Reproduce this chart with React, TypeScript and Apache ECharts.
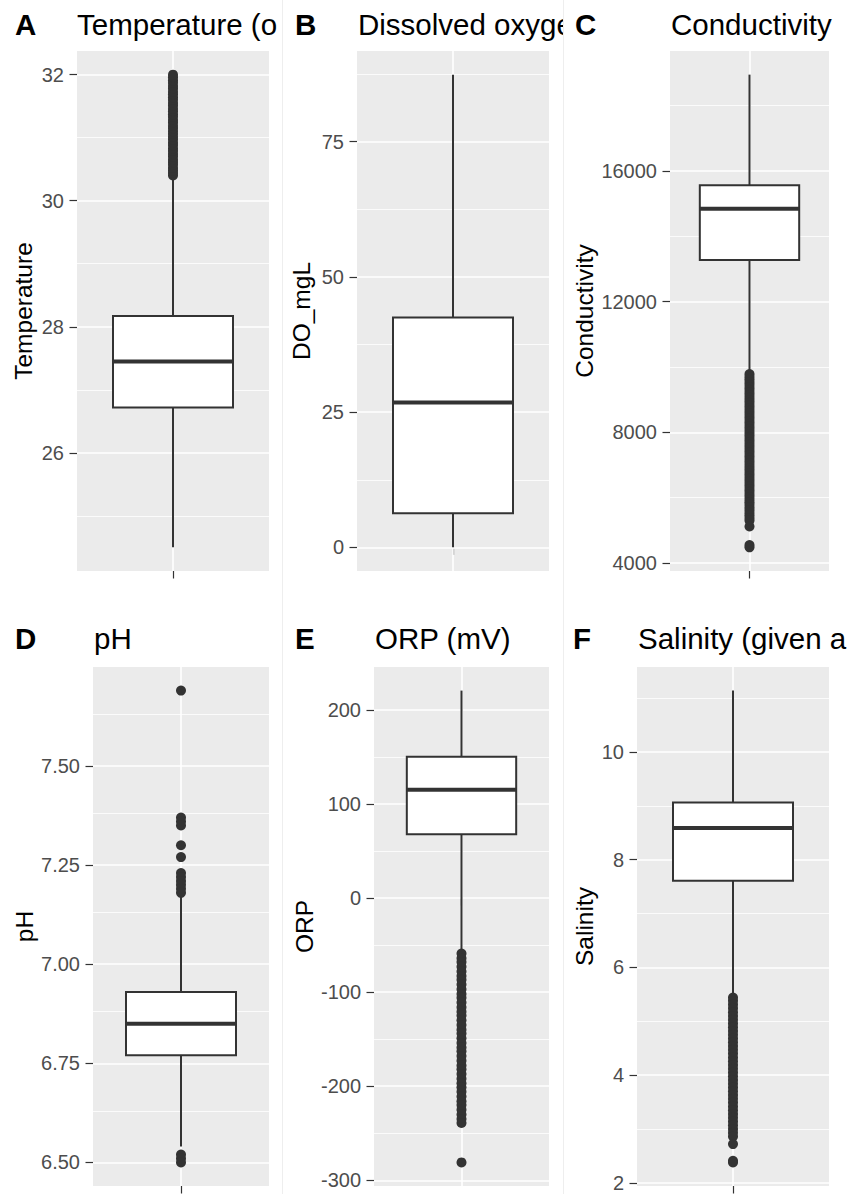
import React, { useEffect, useRef } from 'react';
import * as echarts from 'echarts';

const FONT = '"Liberation Sans", Arial, Helvetica, sans-serif';

const panelTags = ['A', 'B', 'C', 'D', 'E', 'F'];
// titles as visible in the figure (they are clipped by the neighbouring panel / page edge)
const panelTitles = ['Temperature (o', 'Dissolved oxyge', 'Conductivity', 'pH', 'ORP (mV)', 'Salinity (given a'];
const axisTitles = ['Temperature', 'DO_mgL', 'Conductivity', 'pH', 'ORP', 'Salinity'];

// box statistics: [lower whisker, Q1, median, Q3, upper whisker]
const temperatureBox = [24.5, 26.72, 27.45, 28.17, 30.36];
const oxygenBox = [0, 6.3, 26.8, 42.5, 87.4];
const conductivityBox = [9850, 13270, 14840, 15560, 18940];
const phBox = [6.54, 6.77, 6.85, 6.93, 7.17];
const orpBox = [-55, 67.8, 115, 150, 220.4];
const salinityBox = [5.47, 7.61, 8.59, 9.06, 11.14];

// outliers
const temperatureOutliers = [
  30.4, 30.44, 30.48, 30.52, 30.57, 30.61, 30.65, 30.7, 30.74, 30.79, 30.83, 30.88, 30.92,
  30.97, 31.01, 31.06, 31.1, 31.15, 31.19, 31.24, 31.28, 31.33, 31.37, 31.42, 31.46, 31.51,
  31.55, 31.6, 31.64, 31.69, 31.73, 31.78, 31.82, 31.87, 31.91, 31.96, 32.0,
];
const oxygenOutliers: number[] = [];
const conductivityOutliers = [
  9780, 9700, 9620, 9540, 9460, 9380, 9300, 9220, 9140, 9060, 8980, 8900, 8820, 8740, 8660,
  8580, 8500, 8420, 8340, 8260, 8180, 8100, 8020, 7940, 7860, 7780, 7700, 7620, 7540, 7460,
  7380, 7300, 7220, 7140, 7060, 6980, 6900, 6820, 6740, 6660, 6580, 6500, 6420, 6340, 6260,
  6180, 6100, 6020, 5940, 5860, 5780, 5700, 5620, 5540, 5460, 5380, 5300, 5120, 4550, 4480,
];
const phOutliers = [7.69, 7.37, 7.36, 7.35, 7.3, 7.27, 7.23, 7.22, 7.21, 7.2, 7.19, 7.18, 6.52, 6.51, 6.5];
const orpOutliers = [
  -59, -64, -68, -73, -78, -83, -87, -92, -97, -102, -106, -111, -116, -121, -125, -130, -135,
  -140, -144, -149, -154, -159, -163, -168, -173, -178, -182, -187, -192, -197, -201, -206,
  -211, -216, -220, -225, -230, -235, -239, -281,
];
const salinityOutliers = [
  5.44, 5.38, 5.31, 5.24, 5.17, 5.1, 5.03, 4.96, 4.89, 4.82, 4.75, 4.68, 4.61, 4.54, 4.47, 4.4,
  4.33, 4.26, 4.19, 4.12, 4.05, 3.98, 3.91, 3.84, 3.77, 3.7, 3.63, 3.56, 3.49, 3.42, 3.35, 3.28,
  3.21, 3.14, 3.07, 3.0, 2.93, 2.86, 2.72, 2.41, 2.38,
];

// tick labels (major) and minor grid values
const temperatureTicks = [26, 28, 30, 32];
const temperatureMinor = [25, 27, 29, 31];
const oxygenTicks = [0, 25, 50, 75];
const oxygenMinor = [12.5, 37.5, 62.5, 87.5];
const conductivityTicks = [4000, 8000, 12000, 16000];
const conductivityMinor = [6000, 10000, 14000, 18000];
const phTicks = [6.5, 6.75, 7.0, 7.25, 7.5];
const phMinor = [6.625, 6.875, 7.125, 7.375, 7.625];
const orpTicks = [-300, -200, -100, 0, 100, 200];
const orpMinor = [-250, -150, -50, 50, 150];
const salinityTicks = [2, 4, 6, 8, 10];
const salinityMinor = [3, 5, 7, 9, 11];
const tickDecimals = [0, 0, 0, 2, 0, 0];

const boxes = [temperatureBox, oxygenBox, conductivityBox, phBox, orpBox, salinityBox];
const outliers = [temperatureOutliers, oxygenOutliers, conductivityOutliers, phOutliers, orpOutliers, salinityOutliers];
const majors = [temperatureTicks, oxygenTicks, conductivityTicks, phTicks, orpTicks, salinityTicks];
const minors = [temperatureMinor, oxygenMinor, conductivityMinor, phMinor, orpMinor, salinityMinor];

// layout (pixels)
const layouts = [
  { left: 77, right: 269, top: 51, bottom: 571, tagX: 15, titleX: 77, nameGap: 41 },
  { left: 357, right: 549, top: 51, bottom: 571, tagX: 295, titleX: 358, nameGap: 43 },
  { left: 670, right: 829, top: 51, bottom: 571, tagX: 575, titleX: 671, nameGap: 73 },
  { left: 93, right: 269, top: 667, bottom: 1186, tagX: 15, titleX: 94, nameGap: 56 },
  { left: 374, right: 549, top: 667, bottom: 1186, tagX: 295, titleX: 375, nameGap: 57 },
  { left: 637, right: 829, top: 667, bottom: 1186, tagX: 573, titleX: 638, nameGap: 40 },
];

const W = 847;
const H = 1194;
const DARK = '#333333';

export default function App() {
  const ref = useRef<HTMLDivElement>(null);

  useEffect(() => {
    if (!ref.current) return;
    const chart = echarts.init(ref.current, null, { renderer: 'svg' });

    const grid: any[] = [];
    const xAxis: any[] = [];
    const yAxis: any[] = [];
    const series: any[] = [];

    boxes.forEach((box, i) => {
      const L = layouts[i];
      const all = [...box, ...outliers[i]];
      const lo = Math.min(...all);
      const hi = Math.max(...all);
      const pad = (hi - lo) * 0.05;
      const dec = tickDecimals[i];

      grid.push({
        left: L.left,
        top: L.top,
        width: L.right - L.left,
        height: L.bottom - L.top,
        show: true,
        backgroundColor: '#EBEBEB',
        borderWidth: 0,
      });
      xAxis.push({
        type: 'category',
        gridIndex: i,
        data: [''],
        boundaryGap: true,
        axisLine: { show: false },
        axisTick: { show: true, alignWithLabel: true, length: 7.5, lineStyle: { color: DARK, width: 1.2 } },
        axisLabel: { show: false },
        splitLine: { show: false },
      });
      yAxis.push({
        type: 'value',
        gridIndex: i,
        min: lo - pad,
        max: hi + pad,
        name: axisTitles[i],
        nameLocation: 'middle',
        nameRotate: 90,
        nameGap: L.nameGap,
        nameTextStyle: { fontSize: 24.5, color: '#000', fontFamily: FONT },
        axisLine: { show: false },
        axisTick: { show: true, customValues: majors[i], length: 7.5, lineStyle: { color: DARK, width: 1.2 } },
        axisLabel: {
          show: true,
          customValues: majors[i],
          margin: 13,
          fontSize: 20,
          color: '#4D4D4D',
          fontFamily: FONT,
          formatter: (v: number) => Number(v).toFixed(dec),
        },
        splitLine: { show: false },
        minorSplitLine: { show: false },
      });

      // grid lines (white), drawn through the axes' scales
      series.push({
        type: 'scatter',
        xAxisIndex: i,
        yAxisIndex: i,
        data: [],
        silent: true,
        z: 1,
        markLine: {
          silent: true,
          symbol: ['none', 'none'],
          label: { show: false },
          emphasis: { disabled: true },
          animation: false,
          lineStyle: { color: '#FFFFFF', type: 'solid' },
          data: [
            ...minors[i].map((v) => ({ yAxis: v, lineStyle: { color: '#FFFFFF', width: 0.8, type: 'solid' } })),
            ...majors[i].map((v) => ({ yAxis: v, lineStyle: { color: '#FFFFFF', width: 1.6, type: 'solid' } })),
            { xAxis: 0, lineStyle: { color: '#FFFFFF', width: 1.6, type: 'solid' } },
          ],
        },
      });

      // box + whiskers
      series.push({
        type: 'custom',
        xAxisIndex: i,
        yAxisIndex: i,
        z: 6,
        silent: true,
        data: [[0, ...box]],
        encode: { x: 0, y: [1, 2, 3, 4, 5] },
        renderItem: (params: any, api: any) => {
          const x = api.value(0);
          const pMin = api.coord([x, api.value(1)]);
          const pQ1 = api.coord([x, api.value(2)]);
          const pMed = api.coord([x, api.value(3)]);
          const pQ3 = api.coord([x, api.value(4)]);
          const pMax = api.coord([x, api.value(5)]);
          const bw = api.size([1, 0])[0] * 0.625;
          const cx = pMed[0];
          return {
            type: 'group',
            children: [
              { type: 'line', shape: { x1: cx, y1: pMin[1], x2: cx, y2: pQ1[1] }, style: { stroke: DARK, lineWidth: 2 } },
              { type: 'line', shape: { x1: cx, y1: pQ3[1], x2: cx, y2: pMax[1] }, style: { stroke: DARK, lineWidth: 2 } },
              {
                type: 'rect',
                shape: { x: cx - bw / 2, y: pQ3[1], width: bw, height: pQ1[1] - pQ3[1] },
                style: { fill: '#FFFFFF', stroke: DARK, lineWidth: 2 },
              },
              { type: 'line', shape: { x1: cx - bw / 2, y1: pMed[1], x2: cx + bw / 2, y2: pMed[1] }, style: { stroke: DARK, lineWidth: 4 } },
            ],
          };
        },
      });

      // outliers
      series.push({
        type: 'scatter',
        xAxisIndex: i,
        yAxisIndex: i,
        z: 7,
        silent: true,
        symbol: 'circle',
        symbolSize: 10,
        itemStyle: { color: DARK, opacity: 1 },
        data: outliers[i].map((v) => [0, v]),
      });
    });

    const graphic: any[] = [];
    const sepX = [0, 282, 563];
    [0, 1].forEach((row) => {
      const titleY = row === 0 ? 24 : 638;
      const bandTop = row === 0 ? 0 : 592;
      const bandH = row === 0 ? 49 : 73;
      [0, 1, 2].forEach((col) => {
        const i = row * 3 + col;
        const L = layouts[i];
        const zb = 10 + col * 2;
        if (col > 0) {
          graphic.push({
            type: 'rect',
            z: zb,
            silent: true,
            shape: { x: sepX[col], y: bandTop, width: W - sepX[col], height: bandH },
            style: { fill: '#FFFFFF' },
          });
        }
        graphic.push({
          type: 'text',
          z: zb + 1,
          x: L.tagX,
          y: titleY,
          silent: true,
          style: { text: panelTags[i], fontSize: 29.5, fontWeight: 'bold', fontFamily: FONT, fill: '#000', align: 'left', verticalAlign: 'middle' },
        });
        graphic.push({
          type: 'text',
          z: zb + 1,
          x: L.titleX,
          y: titleY,
          silent: true,
          style: { text: panelTitles[i], fontSize: 29.5, fontFamily: FONT, fill: '#000', align: 'left', verticalAlign: 'middle' },
        });
      });
    });
    graphic.push({ type: 'line', z: 30, silent: true, shape: { x1: 282.5, y1: 0, x2: 282.5, y2: H }, style: { stroke: '#EEEEEE', lineWidth: 1 } });
    graphic.push({ type: 'line', z: 30, silent: true, shape: { x1: 563.5, y1: 0, x2: 563.5, y2: H }, style: { stroke: '#EEEEEE', lineWidth: 1 } });

    chart.setOption({
      animation: false,
      backgroundColor: '#FFFFFF',
      textStyle: { fontFamily: FONT },
      grid,
      xAxis,
      yAxis,
      series,
      graphic,
    });

    return () => {
      chart.dispose();
    };
  }, []);

  return (
    <div
      ref={ref}
      style={{ position: 'absolute', left: 0, top: 0, width: W, height: H, background: '#FFFFFF' }}
    />
  );
}
